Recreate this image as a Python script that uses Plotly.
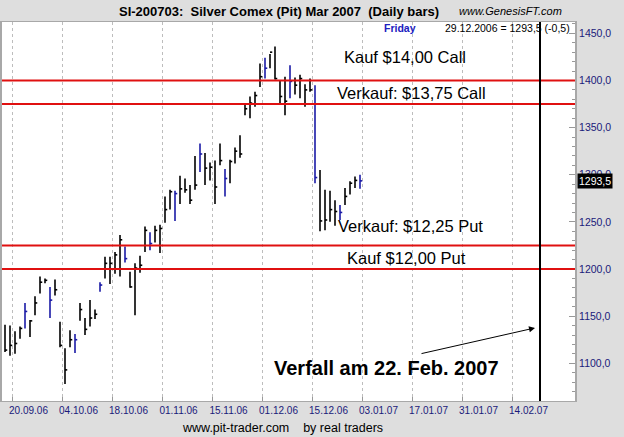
import plotly.graph_objects as go

# ---- data (trading-day index 0 = 18.09.06) ----
high = [1141, 1140, 1134, 1139, 1164, 1146, 1171, 1192, 1190, 1181,
        1189, 1144, 1116, 1135, 1131, 1164, 1148, 1167, 1157, 1186,
        1213, 1213, 1218, 1236, 1224, 1197, 1206, 1214, 1245, 1239,
        1246, 1247, 1277, 1284, 1283, 1299, 1296, 1289, 1320, 1333,
        1323, 1313, 1315, 1333, 1306, 1316, 1329, 1342, 1374, 1383,
        1388, 1418, 1424, 1428, 1436, 1400, 1404, 1416, 1403, 1406,
        1396, 1402, 1395, 1305, 1284, 1283, 1273, 1268, 1286, 1293,
        1298, 1300]
low = [1112, 1108, 1110, 1126, 1137, 1128, 1151, 1174, 1185, 1148,
       1172, 1117, 1078, 1117, 1111, 1145, 1130, 1139, 1147, 1176,
       1190, 1184, 1195, 1192, 1207, 1180, 1151, 1196, 1218, 1220,
       1228, 1217, 1249, 1263, 1251, 1269, 1281, 1269, 1284, 1303,
       1289, 1294, 1269, 1310, 1277, 1291, 1312, 1318, 1363, 1360,
       1372, 1393, 1402, 1413, 1401, 1376, 1363, 1381, 1385, 1381,
       1372, 1388, 1291, 1240, 1241, 1250, 1246, 1252, 1268, 1279,
       1286, 1285]
close = [1114, 1119, 1121, 1137, 1155, 1145, 1164, 1186, 1188, 1167,
         1178, 1119, 1093, 1125, 1125, 1157, 1136, 1148, 1152, 1183,
         1206, 1206, 1215, 1231, 1211, 1181, 1201, 1204, 1241, 1227,
         1241, 1243, 1263, 1282, 1280, 1285, 1284, 1273, 1289, 1322,
         1307, 1308, 1287, 1315, 1296, 1314, 1325, 1322, 1370, 1376,
         1384, 1404, 1413, 1430, 1402, 1383, 1378, 1399, 1395, 1402,
         1390, 1390, 1297, 1251, 1252, 1263, 1261, 1260, 1277, 1291,
         1294, 1293.5]
# Friday bars are drawn blue
friday_idx = [4, 9, 14, 19, 24, 29, 34, 39, 44, 52, 57, 62, 67, 71]

tick_idx = [2, 12, 22, 32, 42, 52, 62, 72, 82, 92, 102]
tick_labels = ["20.09.06", "04.10.06", "18.10.06", "01.11.06", "15.11.06",
               "01.12.06", "15.12.06", "03.01.07", "17.01.07", "31.01.07",
               "14.02.07"]

y_ticks = [1100, 1150, 1200, 1250, 1300, 1350, 1400, 1450]
y_labels = ["1100,0", "1150,0", "1200,0", "1250,0", "1300,0", "1350,0",
            "1400,0", "1450,0"]

option_levels = [1400, 1375, 1225, 1200]
option_texts = ["Kauf $14,00 Call", "Verkauf: $13,75 Call",
                "Verkauf: $12,25 Put", "Kauf $12,00 Put"]
option_text_pos = [(80, 1425), (81.2, 1386.5), (81, 1245.5), (80.2, 1211.5)]

expiry_idx = 107
last_close = 1293.5

FONT = "Arial, Liberation Sans, sans-serif"
BLACK = "#000000"
BLUE = "#1a1aa6"
NAVY = "#1a1a7a"
GREY_BG = "#dedede"

fig = go.Figure()


def add_bars(indices, color):
    xs, ys, tx, ty = [], [], [], []
    for i in indices:
        xs += [i, i, None]
        ys += [low[i], high[i], None]
        tx += [i, i + 0.45, None]
        ty += [close[i], close[i], None]
    fig.add_trace(go.Scatter(x=xs, y=ys, mode="lines",
                             line=dict(color=color, width=1.6),
                             hoverinfo="skip", showlegend=False))
    fig.add_trace(go.Scatter(x=tx, y=ty, mode="lines",
                             line=dict(color=color, width=1.6),
                             hoverinfo="skip", showlegend=False))


others = [i for i in range(len(close)) if i not in friday_idx]
add_bars(others, BLACK)
add_bars(friday_idx, BLUE)

# option strike lines
for lv in option_levels:
    fig.add_shape(type="line", xref="paper", x0=0, x1=1, yref="y", y0=lv, y1=lv,
                  line=dict(color="#e01010", width=2))
for txt, (tx, ty) in zip(option_texts, option_text_pos):
    fig.add_annotation(x=tx, y=ty, text=txt, showarrow=False,
                       font=dict(family=FONT, size=16.5, color="#000000"))

# expiry line
fig.add_shape(type="line", xref="x", x0=expiry_idx, x1=expiry_idx,
              yref="paper", y0=0, y1=1, line=dict(color="#000000", width=2))
fig.add_annotation(x=76.2, y=1095, text="<b>Verfall am 22. Feb. 2007</b>",
                   showarrow=False, font=dict(family=FONT, size=20, color="#000000"))
fig.add_annotation(x=106, y=1137.5, ax=-115, ay=26, axref="pixel", ayref="pixel",
                   text="", showarrow=True, arrowhead=2, arrowsize=1.2,
                   arrowwidth=1, arrowcolor="#000000")

# last price box
fig.add_annotation(xref="paper", x=1.0, y=last_close, yref="y", xanchor="left",
                   text="1293,5", showarrow=False, bgcolor="#000000",
                   font=dict(family=FONT, size=10.5, color="#ffffff"),
                   borderpad=1, xshift=2)

# header texts
fig.add_annotation(xref="paper", yref="paper", x=0.484, y=1.0, yshift=11,
                   text="<b>SI-200703:  Silver Comex (Pit) Mar 2007  (Daily bars)</b>",
                   showarrow=False, xanchor="center", yanchor="middle",
                   font=dict(family=FONT, size=13, color="#000000"))
fig.add_annotation(xref="paper", yref="paper", x=0.887, y=1.0, yshift=11,
                   text="<i>www.GenesisFT.com</i>", showarrow=False,
                   xanchor="center", yanchor="middle",
                   font=dict(family=FONT, size=11, color="#000000"))
fig.add_annotation(xref="paper", yref="paper", x=0.695, y=1.0, yshift=-6,
                   text="<b>Friday</b>", showarrow=False,
                   xanchor="center", yanchor="middle",
                   font=dict(family=FONT, size=10.5, color="#2020c0"))
fig.add_annotation(xref="paper", yref="paper", x=0.995, y=1.0, yshift=-6,
                   text="29.12.2006 = 1293,5 (-0,5)",
                   showarrow=False, xanchor="right", yanchor="middle",
                   font=dict(family=FONT, size=10.5, color="#000000"))
fig.add_annotation(xref="paper", yref="paper", x=0.489, y=0.0, yshift=-27,
                   text="www.pit-trader.com    by real traders", showarrow=False,
                   xanchor="center", yanchor="middle",
                   font=dict(family=FONT, size=12.5, color="#000000"))

fig.update_layout(
    width=624, height=437,
    margin=dict(l=2, r=49, t=22, b=36),
    paper_bgcolor=GREY_BG, plot_bgcolor="#ffffff",
    showlegend=False,
    xaxis=dict(range=[-0.6, 114], tickmode="array",
               tickvals=[t - 0.5 for t in tick_idx], ticktext=tick_labels,
               ticks="inside", ticklen=4, tickcolor="#999999",
               tickfont=dict(family=FONT, size=10, color=NAVY),
               ticklabelshift=16, automargin=False,
               showgrid=True, gridcolor="#bdbdbd", griddash="3px,3px",
               gridwidth=1, zeroline=False,
               showline=True, linecolor="#a8a8a8", linewidth=1, mirror=True),
    yaxis=dict(range=[1060, 1462], side="right", tickmode="array",
               tickvals=y_ticks, ticktext=y_labels, automargin=False,
               ticks="inside", ticklen=6, tickcolor="#999999",
               minor=dict(dtick=10, ticks="inside", ticklen=3, tickcolor="#999999"),
               tickfont=dict(family=FONT, size=10.5, color=NAVY),
               showgrid=False, zeroline=False,
               showline=True, linecolor="#a8a8a8", linewidth=2, mirror=True),
)

fig.write_html("out.html", config={"displayModeBar": False},
               post_script="document.body.style.margin='0px';document.body.style.overflow='hidden';")
